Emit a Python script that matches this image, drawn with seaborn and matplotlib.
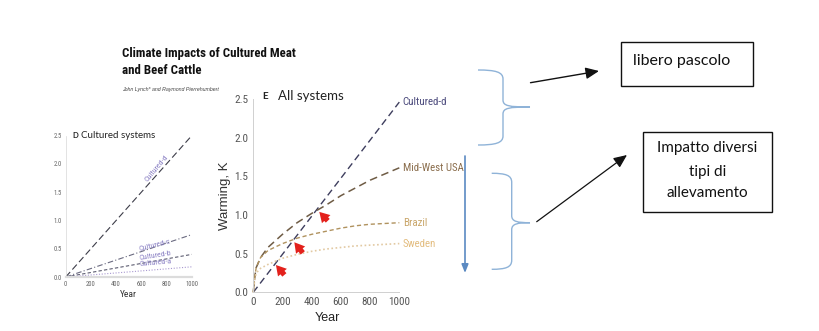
import matplotlib
matplotlib.use("Agg")
import matplotlib.pyplot as plt
import seaborn as sns
from matplotlib.patches import Rectangle, PathPatch
from matplotlib.path import Path
from matplotlib import font_manager

# ---------------- data ----------------
# Panel D: cultured systems (linear warming)
years_d = [0, 1000]
cultured_d = [0.0, 2.50]
cultured_c = [0.0, 0.75]
cultured_b = [0.0, 0.40]
cultured_a = [0.0, 0.18]
d_labels = ["Cultured-d", "Cultured-c", "Cultured-b", "Cultured-a"]

# Panel E: all systems
years_e_lin = [0, 1000]
e_cultured_d = [0.0, 2.46]
years_e = [0, 10, 20, 50, 100, 200, 300, 400, 500, 600, 700, 800, 900, 1000]
midwest_usa = [0.0, 0.20, 0.32, 0.45, 0.58, 0.75, 0.90, 1.02, 1.13, 1.25, 1.35, 1.45, 1.53, 1.61]
brazil = [0.0, 0.20, 0.32, 0.45, 0.54, 0.63, 0.70, 0.75, 0.79, 0.83, 0.86, 0.88, 0.89, 0.90]
sweden = [0.0, 0.17, 0.25, 0.31, 0.36, 0.44, 0.49, 0.53, 0.56, 0.58, 0.60, 0.61, 0.62, 0.63]
e_labels = ["Cultured-d", "Mid-West USA", "Brazil", "Sweden"]

x_ticks = [0, 200, 400, 600, 800, 1000]
y_ticks = [0.0, 0.5, 1.0, 1.5, 2.0, 2.5]

# crossing markers (head year, head value, tail year, tail value)
cross_arrows = [(452, 1.04, 510, 0.925), (281, 0.647, 339, 0.51), (155, 0.353, 213, 0.225)]


def pick(*names):
    for n in names:
        try:
            font_manager.findfont(n, fallback_to_default=False)
            return n
        except Exception:
            pass
    return None


sns.set_style("white")
arial = pick("Liberation Sans") or "DejaVu Sans"
narrow_found = pick("Liberation Sans Narrow", "Arial Narrow", "Roboto Condensed")
narrow = narrow_found or arial
nscale = 1.0 if narrow_found else 0.86
calib = pick("Lato", "Open Sans") or "DejaVu Sans"
plt.rcParams["font.family"] = [arial, "DejaVu Sans"]

W, H = 820, 331
fig = plt.figure(figsize=(W / 100, H / 100), dpi=100)


def rect(l, t, r, b):
    return [l / W, 1 - b / H, (r - l) / W, (b - t) / H]


# ---------------- Panel D ----------------
axd = fig.add_axes(rect(65.7, 135.7, 191.7, 277))
d_styles = [
    (cultured_d, "#3c3c48", (0, (6, 3))),
    (cultured_c, "#6a6a80", (0, (5, 2, 1, 2))),
    (cultured_b, "#5c5c70", (0, (3, 2))),
    (cultured_a, "#a898d0", (0, (1, 1.5))),
]
for vals, col, ls in d_styles:
    sns.lineplot(x=years_d, y=vals, ax=axd, color=col, linestyle=ls, lw=0.8)
axd.set_xlim(0, 1000)
axd.set_ylim(0, 2.5)
axd.set_xticks(x_ticks)
axd.set_yticks(y_ticks)
axd.set_xticklabels([str(v) for v in x_ticks], fontsize=4.8 * nscale, color="#666", family=narrow)
axd.set_yticklabels([f"{v:.1f}" for v in y_ticks], fontsize=4.8 * nscale, color="#666", family=narrow)
axd.tick_params(length=1.5, width=0.4, color="#bbb", pad=1.2)
for s in ["top", "right"]:
    axd.spines[s].set_visible(False)
axd.spines["left"].set_color("#d8d8d8")
axd.spines["left"].set_linewidth(0.5)
axd.spines["bottom"].set_color("#dcdcdc")
axd.spines["bottom"].set_linewidth(1.6)
axd.set_xlabel("Year", fontsize=6.8 * nscale, color="#333", family=narrow)
axd.xaxis.set_label_coords(0.5, -0.09)
axd.set_ylabel("")
d_lab_pos = [(722, 1.93, 50), (709, 0.56, 14), (709, 0.38, 9), (709, 0.26, 5)]
for lab, (x, y, rot) in zip(d_labels, d_lab_pos):
    axd.text(x, y, lab, fontsize=5.8 * nscale, color="#8a80c4", rotation=rot, ha="center",
             va="center", rotation_mode="anchor", family=narrow)
axd.text(0.055, 1.0, "D", transform=axd.transAxes, fontsize=5.5, fontweight="bold",
         color="#222", va="center", ha="left", family=calib)
axd.text(0.12, 1.0, "Cultured systems", transform=axd.transAxes, fontsize=7,
         color="#222", va="center", ha="left", family=calib)

# ---------------- Panel E ----------------
axe = fig.add_axes(rect(253.3, 99, 399.3, 292.3))
sns.lineplot(x=years_e_lin, y=e_cultured_d, ax=axe, color="#3e3e5e", linestyle=(0, (5, 3)), lw=1.0)
sns.lineplot(x=years_e, y=midwest_usa, ax=axe, color="#6f5c45", linestyle=(0, (5, 3)), lw=1.1)
sns.lineplot(x=years_e, y=brazil, ax=axe, color="#b0925e", linestyle=(0, (3, 2)), lw=1.0)
sns.lineplot(x=years_e, y=sweden, ax=axe, color="#e2c9a2", linestyle=(0, (1, 1.5)), lw=1.2)
for ln in axe.lines:
    ln.set_clip_on(False)
axe.set_xlim(0, 1000)
axe.set_ylim(0, 2.5)
axe.set_xticks(x_ticks)
axe.set_yticks(y_ticks)
axe.set_xticklabels([str(v) for v in x_ticks], fontsize=8 * nscale, color="#555", family=narrow)
axe.set_yticklabels([f"{v:.1f}" for v in y_ticks], fontsize=8 * nscale, color="#555", family=narrow)
axe.tick_params(length=2, width=0.5, color="#bbb", pad=1.5)
for s in ["top", "right"]:
    axe.spines[s].set_visible(False)
for s in ["left", "bottom"]:
    axe.spines[s].set_color("#d0d0d0")
    axe.spines[s].set_linewidth(0.7)
axe.set_ylabel("Warming, K", fontsize=9.5, color="#333", family=arial)
axe.yaxis.set_label_coords(-0.15, 0.5)
axe.set_xlabel("Year", fontsize=9, color="#222", family=arial)
axe.xaxis.set_label_coords(0.505, -0.1)
e_vals = [e_cultured_d[-1], midwest_usa[-1], brazil[-1], sweden[-1]]
e_cols = ["#4b4a7c", "#8a6d4c", "#c9a66a", "#e3bd80"]
for lab, v, c in zip(e_labels, e_vals, e_cols):
    axe.text(1023, v, lab, fontsize=7.8 * nscale, color=c, va="center", ha="left",
             family=narrow, clip_on=False)
for hx, hy, tx, ty in cross_arrows:
    axe.annotate("", xy=(hx, hy), xytext=(tx, ty),
                 arrowprops=dict(arrowstyle="simple,head_length=0.6,head_width=0.7,tail_width=0.32",
                                 color="#e3211c", lw=0, shrinkA=0, shrinkB=0, mutation_scale=12),
                 annotation_clip=False)
axe.text(0.06, 1.015, "E", transform=axe.transAxes, fontsize=7, fontweight="bold",
         color="#222", va="center", ha="left", family=calib)
axe.text(0.17, 1.015, "All systems", transform=axe.transAxes, fontsize=9.5,
         color="#222", va="center", ha="left", family=calib)

# ---------------- overlay: titles, braces, arrows, boxes ----------------
ov = fig.add_axes([0, 0, 1, 1])
ov.set_xlim(0, W)
ov.set_ylim(H, 0)
ov.axis("off")
ov.patch.set_alpha(0)

ov.text(122, 46.5, "Climate Impacts of Cultured Meat\nand Beef Cattle", fontsize=9.5 * nscale * 0.98,
        fontweight="bold", color="#111", va="top", ha="left", linespacing=1.45, family=narrow)
ov.text(122, 90, "John Lynch* and Raymond Pierrehumbert", fontsize=3.8, style="italic",
        color="#444", va="center", ha="left", family=arial)


def brace(x0, xv, xt, top, tip, bot, col="#8fb3d8"):
    verts = [(x0, top), (x0 + (xv - x0) * 0.7, top), (xv, top + 2), (xv, top + 9),
             (xv, tip - 7),
             (xv, tip - 1), (xv + 6, tip), (xt, tip),
             (xv + 6, tip), (xv, tip + 1), (xv, tip + 7),
             (xv, bot - 9),
             (xv, bot - 2), (x0 + (xv - x0) * 0.7, bot), (x0, bot)]
    codes = [Path.MOVETO, Path.CURVE4, Path.CURVE4, Path.CURVE4,
             Path.LINETO,
             Path.CURVE4, Path.CURVE4, Path.CURVE4,
             Path.CURVE4, Path.CURVE4, Path.CURVE4,
             Path.LINETO,
             Path.CURVE4, Path.CURVE4, Path.CURVE4]
    ov.add_patch(PathPatch(Path(verts, codes), fill=False, edgecolor=col, lw=1.0))


brace(478, 503, 530, 70, 107, 145)
brace(491.7, 511.7, 530, 173.3, 222.7, 269.3)

ov.annotate("", xy=(465, 273), xytext=(465, 156),
            arrowprops=dict(arrowstyle="-|>,head_length=0.5,head_width=0.2", color="#5b8ac2", lw=1.2,
                            shrinkA=0, shrinkB=0))
ov.annotate("", xy=(599, 71), xytext=(530.5, 82.7),
            arrowprops=dict(arrowstyle="-|>,head_length=0.8,head_width=0.35", color="#111", lw=1.0,
                            shrinkA=0, shrinkB=0))
ov.annotate("", xy=(627, 155), xytext=(536.7, 221.7),
            arrowprops=dict(arrowstyle="-|>,head_length=0.8,head_width=0.35", color="#111", lw=0.9,
                            shrinkA=0, shrinkB=0))

ov.add_patch(Rectangle((620.7, 41.7), 132, 44.3, fill=False, edgecolor="#111", lw=1.0))
ov.text(632.7, 61, "libero pascolo", fontsize=11.5, color="#111", va="center", ha="left", family=calib)
ov.add_patch(Rectangle((643.3, 131.7), 128.4, 80, fill=False, edgecolor="#111", lw=1.0))
for txt, y in zip(["Impatto diversi", "tipi di", "allevamento"], [148.3, 171.7, 193.3]):
    ov.text(707.5, y, txt, fontsize=11, color="#111", va="center", ha="center", family=calib)

fig.savefig("out.png", dpi=100, facecolor="white")
